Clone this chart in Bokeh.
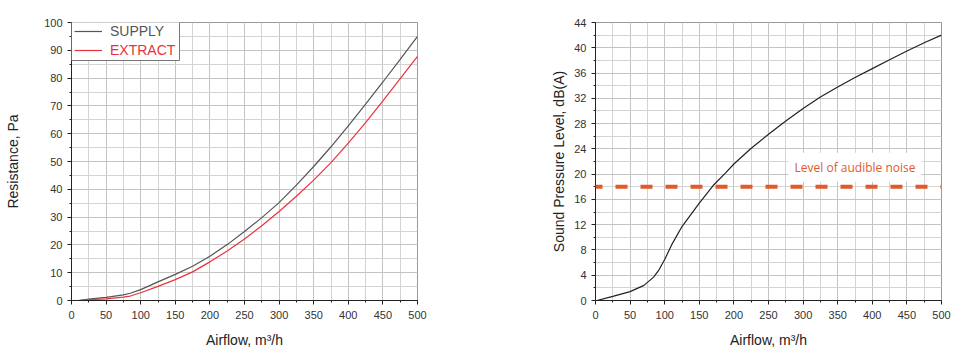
from bokeh.plotting import figure
from bokeh.layouts import row
from bokeh.models import (Range1d, SingleIntervalTicker, Legend, LegendItem, Span, Label,
                          BoxAnnotation)
from bokeh.embed import file_html
from bokeh.resources import INLINE

# ---------------- data ----------------
airflow = [10, 25, 50, 75, 85, 100, 125, 150, 175, 200, 225, 250, 275, 300, 325, 350, 375, 400, 425, 450, 475, 500]
supply = [0, 0.5, 1.1, 2.0, 2.6, 3.9, 6.7, 9.4, 12.3, 15.9, 20.1, 24.8, 29.8, 35.2, 41.5, 48.2, 55.3, 62.8, 70.6, 78.6, 86.7, 95.0]
extract = [0, 0.3, 0.6, 1.2, 1.6, 2.8, 5.1, 7.5, 10.3, 13.9, 17.8, 22.1, 26.9, 32.0, 37.5, 43.3, 49.6, 56.6, 64.0, 71.8, 79.8, 87.8]

sound_airflow = [2, 25, 50, 70, 84, 92, 100, 110, 125, 150, 170, 188, 200, 225, 250, 275, 300, 325, 350, 375, 400, 425, 450, 475, 500]
sound_level = [0, 0.65, 1.4, 2.4, 3.7, 4.9, 6.5, 8.8, 11.7, 15.4, 18.2, 20.2, 21.6, 24.1, 26.3, 28.4, 30.4, 32.2, 33.8, 35.3, 36.7, 38.1, 39.5, 40.8, 42.0]

audible_level = 18
audible_text = "Level of audible noise"
audible_text_x = 375
audible_text_y = 21.1

x_label = "Airflow, m³/h"
left_y_label = "Resistance, Pa"
right_y_label = "Sound Pressure Level, dB(A)"

FONT = "Liberation Sans"
GRID = "#c4c4c4"
MINOR_GRID = "#d4d4d4"
SUPPLY_COLOR = "#555555"
EXTRACT_COLOR = "#e8333d"
NOISE_COLOR = "#e05a2b"


def style(p, x_int, x_minor, y_int, y_minor, y_label, ylab_standoff):
    p.xaxis.ticker = SingleIntervalTicker(interval=x_int, num_minor_ticks=x_minor)
    p.yaxis.ticker = SingleIntervalTicker(interval=y_int, num_minor_ticks=y_minor)
    p.xgrid.ticker = p.xaxis.ticker
    p.ygrid.ticker = p.yaxis.ticker
    for g in (p.xgrid, p.ygrid):
        g.grid_line_color = GRID
        g.grid_line_width = 1
        g.minor_grid_line_color = MINOR_GRID
        g.minor_grid_line_width = 1
    for ax in (p.xaxis, p.yaxis):
        ax.axis_line_color = "#222222"
        ax.axis_line_width = 1
        ax.major_tick_line_color = "#222222"
        ax.minor_tick_line_color = "#222222"
        ax.major_tick_out = 4
        ax.major_tick_in = 0
        ax.minor_tick_out = 2
        ax.minor_tick_in = 0
        ax.major_label_text_font = FONT
        ax.major_label_text_font_size = "11px"
        ax.major_label_text_color = "#333333"
        ax.axis_label_text_font = FONT
        ax.axis_label_text_font_size = "14px"
        ax.axis_label_text_font_style = "normal"
        ax.axis_label_text_color = "#222222"
    p.xaxis.axis_label = x_label
    p.xaxis.major_label_standoff = 6
    p.xaxis.axis_label_standoff = 10
    p.yaxis.axis_label = y_label
    p.yaxis.major_label_standoff = 5
    p.yaxis.axis_label_standoff = ylab_standoff
    p.outline_line_color = "#999999"
    p.outline_line_width = 1
    p.background_fill_color = "white"
    p.border_fill_color = "white"


# ---------------- left chart ----------------
p1 = figure(width=480, height=356, output_backend="svg", toolbar_location=None,
            x_range=Range1d(0, 500), y_range=Range1d(0, 100),
            min_border_left=71, min_border_right=63, min_border_top=21, min_border_bottom=56)
style(p1, 50, 2, 10, 2, left_y_label, 20)

r_sup = p1.line(airflow, supply, line_color=SUPPLY_COLOR, line_width=1.2)
r_ext = p1.line(airflow, extract, line_color=EXTRACT_COLOR, line_width=1.2)

legend_box = BoxAnnotation(left=0, right=108, bottom=240, top=279,
                           left_units="screen", right_units="screen",
                           bottom_units="screen", top_units="screen",
                           fill_color="white", fill_alpha=1.0,
                           line_color="#777777", line_width=1, line_alpha=1.0)
p1.add_layout(legend_box)

for name, rend, col, ypos in (("SUPPLY", r_sup, SUPPLY_COLOR, 260), ("EXTRACT", r_ext, EXTRACT_COLOR, 241)):
    lg = Legend(items=[LegendItem(label=name, renderers=[rend])], location=(3, ypos),
                orientation="vertical", padding=0, margin=0, spacing=0,
                glyph_width=28, glyph_height=18, label_height=18, label_standoff=8,
                label_text_font=FONT, label_text_font_size="14px", label_text_color=col,
                background_fill_alpha=0, border_line_color=None)
    p1.add_layout(lg)

# ---------------- right chart ----------------
p2 = figure(width=481, height=356, output_backend="svg", toolbar_location=None,
            x_range=Range1d(0, 500), y_range=Range1d(0, 44),
            min_border_left=115, min_border_right=20, min_border_top=22, min_border_bottom=56)
style(p2, 50, 2, 4, 2, right_y_label, 4)

p2.line(sound_airflow, sound_level, line_color="#222222", line_width=1.2)

noise_span = Span(location=audible_level, dimension="width", line_color=NOISE_COLOR,
                  line_width=4, line_dash="12 13", line_dash_offset=5)
p2.add_layout(noise_span)

noise_label = Label(x=audible_text_x, y=audible_text_y, text=audible_text,
                    text_align="center", text_baseline="middle",
                    text_font="Open Sans", text_font_size="12px", text_color=NOISE_COLOR,
                    background_fill_color="white", background_fill_alpha=1.0,
                    padding=6)
p2.add_layout(noise_label)

layout = row(p1, p2, spacing=0)
open("out.html", "w").write(file_html(layout, INLINE))
